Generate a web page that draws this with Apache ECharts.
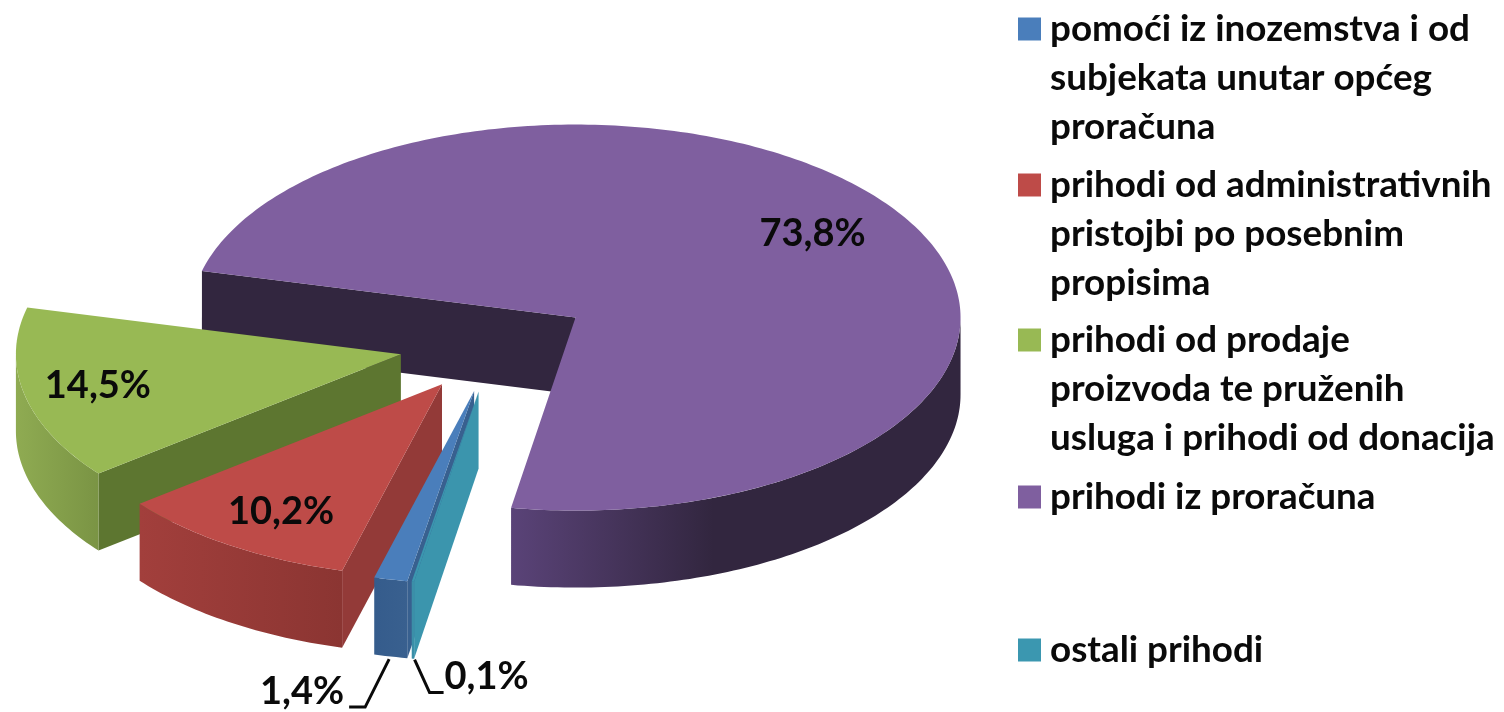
<!DOCTYPE html>
<html><head><meta charset="utf-8">
<style>html,body{margin:0;padding:0;background:#fff}#c{width:1504px;height:712px}</style>
<script src="https://cdn.jsdelivr.net/npm/echarts@6/dist/echarts.min.js"></script>
</head><body><div id="c"></div>
<script>
// Data, in legend order (also clockwise drawing order of the pie)
const categories = [
  ['pomoći iz inozemstva i od','subjekata unutar općeg','proračuna'],
  ['prihodi od administrativnih','pristojbi po posebnim','propisima'],
  ['prihodi od prodaje','proizvoda te pruženih','usluga i prihodi od donacija'],
  ['prihodi iz proračuna'],
  ['ostali prihodi']
];
const shares = [1.4, 10.2, 14.5, 73.8, 0.1];
const legendCentres = [29, 185, 340, 497, 650];

// Styling
const topColors  = ['#4a7ebb','#be4b48','#98b954','#7f5f9f','#3b97b0'];
const faceColors = ['#38608f','#933a38','#5d7630','#32263f','#3b95ad'];
const wallLeft   = ['#355c8c','#a23f3c','#8fab52','#5a4378','#3b8fa8'];
const wallRight  = ['#39608f','#8b3532','#7a9444','#32263f','#3b8fa8'];
const drawOrder  = [3, 2, 1, 0, 4];
// label offset from each slice's apex, px
const labelOffset = [[-172,301],[-161,127],[-303,32],[237,-84],[8,285]];
const leaders = [[[-85,268],[-109,316],[-125,316]],[[-64,268],[-49,301],[-35,301]]];
const FONT = 'Lato';

const PIE = {cx:495, cy:344, rx:385, ry:193, depth:77, explode:0.25, start:190};

const rad = d => d*Math.PI/180;
let acc = PIE.start;
const ranges = shares.map(v => { const r=[acc, acc+v*3.6]; acc=r[1]; return r; });

function renderSlice(params, api){
  const i = drawOrder[params.seriesIndex];
  const v = api.value(0);
  const s = ranges[i][0], e = s + v*3.6, mid=(s+e)/2;
  const P = PIE;
  const ax = P.cx + P.explode*P.rx*Math.sin(rad(mid));
  const ay = P.cy - P.explode*P.ry*Math.cos(rad(mid));
  const pt = (a,dy=0)=>[ax+P.rx*Math.sin(rad(a)), ay-P.ry*Math.cos(rad(a))+dy];
  const arc = (a,b,dy=0)=>{const o=[];const n=Math.max(2,Math.ceil((b-a)));for(let k=0;k<=n;k++)o.push(pt(a+(b-a)*k/n,dy));return o;};
  const kids=[];
  // cut face at slice start
  if(Math.sin(rad(s))<0){
    const p=pt(s);
    kids.push({type:'polygon',shape:{points:[[ax,ay],p,[p[0],p[1]+P.depth],[ax,ay+P.depth]]},style:{fill:faceColors[i]}});
  }
  // outer wall: the part of the rim on the front half
  for(const off of [0,360]){
    const a=Math.max(s,90+off), b=Math.min(e,270+off);
    if(b>a){
      const top=arc(a,b), bot=arc(a,b,P.depth).reverse();
      const xs=top.map(q=>q[0]); const x0=Math.min(...xs), x1=Math.max(...xs);
      kids.push({type:'polygon',shape:{points:top.concat(bot)},style:{fill:new echarts.graphic.LinearGradient(x0,0,x1,0,[{offset:0,color:wallLeft[i]},{offset:i===3?0.45:1,color:wallRight[i]},{offset:1,color:wallRight[i]}],true)}});
    }
  }
  // top
  kids.push({type:'polygon',shape:{points:[[ax,ay]].concat(arc(s,e))},style:{fill:topColors[i]}});
  // data label
  const txt=String(v).replace('.',',')+'%';
  kids.push({type:'text',x:ax+labelOffset[i][0],y:ay+labelOffset[i][1],z2:10,style:{text:txt,font:'700 38px '+FONT,fill:'#0a0a0a',align:'center',verticalAlign:'middle'}});
  const li = i===0?0:(i===4?1:-1);
  if(li>=0){
    kids.push({type:'polyline',z2:9,shape:{points:leaders[li].map(q=>[ax+q[0],ay+q[1]])},style:{stroke:'#0a0a0a',lineWidth:3,fill:null}});
  }
  return {type:'group',children:kids};
}

const names = categories.map(l=>l.join(' '));
const series = drawOrder.map(i=>({
  type:'custom', name:names[i], coordinateSystem:'none',
  itemStyle:{color:topColors[i]}, silent:true, animation:false,
  data:[[shares[i]]], renderItem:renderSlice
}));
const LH=49;
const legend = categories.map((lines,i)=>({
  data:[names[i]], left:1018, top:legendCentres[i]-(2*lines.length-1)*LH/2, padding:0,
  orient:'vertical', icon:'rect', itemWidth:23, itemHeight:23, selectedMode:false,
  formatter:()=>'\n'.repeat(lines.length-1)+lines.join('\n'),
  textStyle:{fontFamily:FONT,fontWeight:700,fontSize:36.8,lineHeight:LH,color:'#0a0a0a',padding:[0,0,0,4]}
}));
const chart=echarts.init(document.getElementById('c'),null,{renderer:'canvas'});
chart.setOption({animation:false,backgroundColor:'#fff',legend,series});
</script></body></html>
